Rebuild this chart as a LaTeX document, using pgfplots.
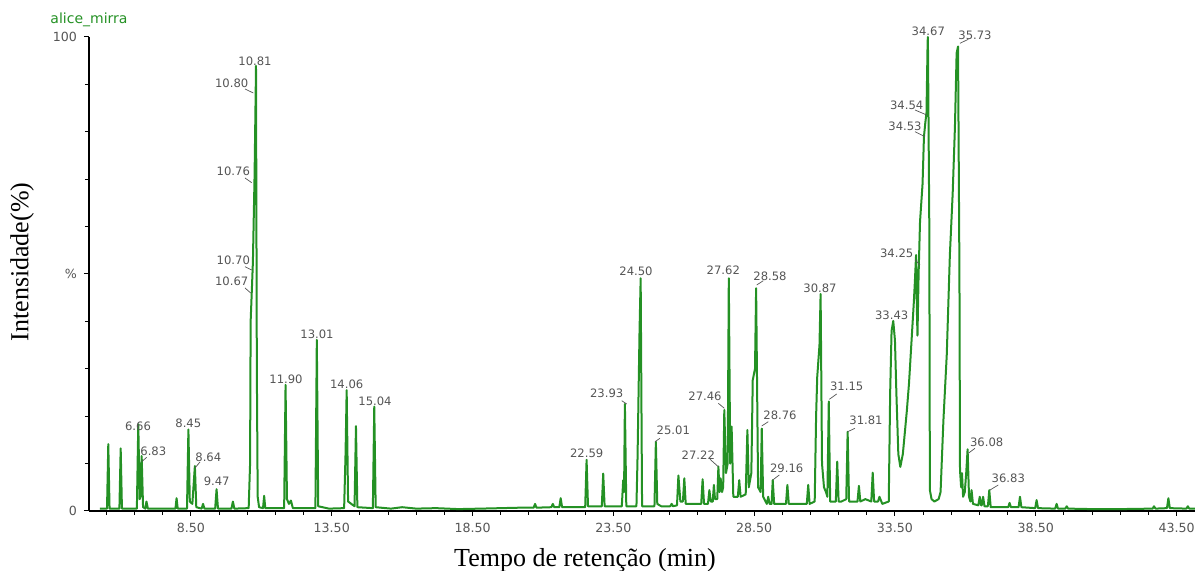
\documentclass[border=0pt]{standalone}
\usepackage{pgfplots}
\pgfplotsset{compat=1.18}
\usepackage{fontspec}
\setmainfont{Liberation Serif}
\newfontfamily\dejavu{DejaVu Sans}
\definecolor{chrom}{RGB}{36,145,36}
\definecolor{lbl}{RGB}{85,85,85}
\begin{document}
\begin{tikzpicture}
\path[use as bounding box] (-44.5pt,-30pt) rectangle (555.5pt,255.5pt);
\begin{axis}[
  scale only axis, width=553pt, height=237pt,
  xmin=4.880, xmax=44.155, ymin=0, ymax=100,
  axis x line*=bottom, axis y line*=left,
  axis line style={line width=0.8pt, black},
  xtick={8.5,13.5,18.5,23.5,28.5,33.5,38.5,43.5},
  xticklabels={8.50,13.50,18.50,23.50,28.50,33.50,38.50,43.50},
  minor xtick={5.5,6.5,7.5,9.5,10.5,11.5,12.5,14.5,15.5,16.5,17.5,19.5,20.5,21.5,22.5,24.5,25.5,26.5,27.5,29.5,30.5,31.5,32.5,34.5,35.5,36.5,37.5,39.5,40.5,41.5,42.5},
  ytick={0,50,100}, yticklabels={0,\%,100},
  minor ytick={10,20,30,40,60,70,80,90},
  tick align=outside, major tick length=2.5pt, minor tick length=2pt,
  tick style={black, line width=0.5pt},
  ticklabel style={font=\dejavu\fontsize{6.3}{7}\selectfont, text=lbl},
  /pgf/number format/assume math mode=true,
  clip=false,
]
\addplot[chrom, line width=1pt, line join=round] coordinates {
(5.27,0.5)(5.52,0.5)(5.565,14.1)(5.61,0.5)(5.96,0.5)(6.005,13.2)(6.05,0.5)
(6.58,0.5)(6.63,18.3)(6.68,2.5)(6.71,3)(6.75,11.6)(6.80,0.8)(6.88,0.5)(6.92,2.0)(6.97,0.5)
(7.60,0.5)(7.95,0.5)(7.99,2.7)(8.03,0.5)(8.36,0.5)(8.41,17.2)(8.46,2)(8.55,1.5)(8.64,9.5)(8.69,0.8)
(8.88,0.5)(8.93,1.5)(8.98,0.5)(9.36,0.5)(9.41,4.6)(9.46,0.5)(9.94,0.5)(9.99,2.0)(10.04,0.5)
(10.55,0.6)(10.60,10)(10.62,40)(10.67,47.7)(10.70,52.5)(10.76,70.9)(10.80,88.8)(10.81,93.9)(10.84,30)(10.87,3)(10.92,0.8)
(11.06,0.6)(11.10,3.2)(11.14,0.6)(11.81,0.6)(11.86,26.6)(11.91,2.5)(11.98,1.5)(12.05,2.2)(12.12,0.6)
(12.92,0.6)(12.97,36.1)(13.02,1)(13.40,0.5)(13.94,0.6)(13.99,12)(14.03,25.5)(14.08,2)(14.31,1)(14.36,17.9)(14.41,0.8)
(14.96,0.6)(15.01,22.0)(15.06,0.8)(15.6,0.5)(16.0,0.8)(16.5,0.5)(17.2,0.6)(18.0,0.4)(18.8,0.5)(19.5,0.6)(20.2,0.7)
(20.67,0.7)(20.72,1.5)(20.77,0.7)(21.30,0.8)(21.35,1.5)(21.40,0.8)(21.58,0.8)(21.63,2.7)(21.68,0.8)
(22.50,0.8)(22.55,10.8)(22.60,1)(23.09,1)(23.14,7.9)(23.19,1)(23.80,1)(23.85,6.5)(23.88,4)(23.91,22.6)(23.96,1)
(24.32,1)(24.36,11.5)(24.43,38)(24.47,49.1)(24.52,1)(24.96,1)(25.01,14.6)(25.06,1.5)(25.2,1)
(25.52,1)(25.57,1.5)(25.62,1)(25.76,1.2)(25.81,7.5)(25.88,2)(25.97,2)(26.02,6.9)(26.07,1.5)(26.3,1.5)
(26.62,1.5)(26.67,6.7)(26.72,1.5)(26.86,1.5)(26.91,4.4)(26.96,2)(27.03,2)(27.07,5.5)(27.11,2.5)
(27.19,2.5)(27.23,9.4)(27.27,4)(27.31,6.9)(27.36,4)(27.40,5)(27.44,21.3)(27.50,8)(27.56,10)(27.60,49.1)
(27.65,10)(27.70,17.8)(27.76,3)(27.92,3)(27.97,6.5)(28.02,3)(28.20,3.5)(28.26,17.1)(28.31,5)(28.40,8)
(28.45,27.6)(28.53,30)(28.57,47.0)(28.64,5)(28.73,4)(28.77,17.4)(28.82,3)(28.95,1.5)(29.00,3)(29.05,1.5)
(29.12,1.5)(29.16,6.5)(29.21,1.5)(29.63,1.5)(29.68,5.5)(29.73,1.5)(30.37,1.5)(30.42,5.5)(30.47,1.5)
(30.65,2)(30.70,20)(30.74,28.3)(30.82,35)(30.86,45.8)(30.91,10)(30.98,5)(31.05,4)(31.10,3)(31.15,23.1)(31.20,2)
(31.32,2)(31.40,2)(31.45,10.4)(31.50,2)(31.60,2)(31.77,2.5)(31.82,16.7)(31.87,2)(32.0,2)(32.17,2)(32.22,5.3)(32.27,2)
(32.45,2.5)(32.66,2)(32.71,8.1)(32.76,2)(32.90,2)(32.95,3)(33.05,1.5)(33.28,2)(33.33,25)(33.38,38)(33.44,40.1)
(33.50,36)(33.55,25)(33.62,12)(33.69,9.3)(33.78,12)(33.92,21)(34.00,27)(34.09,36)(34.17,44)(34.21,48.7)(34.25,54)
(34.28,42)(34.30,37)(34.34,50)(34.39,61)(34.48,69)(34.53,79)(34.58,82)(34.62,84)(34.66,99)(34.67,100)(34.72,60)(34.74,4.4)
(34.80,2.5)(34.90,2.0)(35.05,2.5)(35.12,4)(35.22,19)(35.34,33)(35.45,54)(35.55,67)(35.63,81)(35.69,96.6)(35.74,98)
(35.79,50)(35.81,8.6)(35.85,5)(35.88,8)(35.92,3)(35.98,4)(36.03,8)(36.08,13)(36.13,3)(36.18,2)(36.22,4.4)(36.27,1.5)
(36.46,1.2)(36.51,3)(36.56,1.2)(36.58,1.2)(36.63,3)(36.68,1)(36.80,1)(36.85,4.4)(36.90,0.8)(37.2,0.8)
(37.52,0.8)(37.57,1.7)(37.62,0.8)(37.89,0.8)(37.94,3)(37.99,0.8)(38.48,0.6)(38.53,2.3)(38.58,0.6)
(39.19,0.5)(39.24,1.5)(39.29,0.5)(39.55,0.5)(39.60,1.0)(39.65,0.5)(40.5,0.4)(41.5,0.4)
(42.65,0.5)(42.70,1.0)(42.75,0.5)(43.16,0.6)(43.21,2.7)(43.26,0.6)(43.85,0.5)(43.90,1.0)(43.95,0.5)(44.15,0.5)
};
\end{axis}
\begin{scope}[x=0.5pt,y=-0.5pt,shift={(-44.5pt,255.5pt)}]
\node[text=chrom, font=\dejavu\fontsize{7}{8}\selectfont] at (89,20) {alice\_mirra};
\node[rotate=90, font=\fontsize{13}{15}\selectfont] at (22,262) {Intensidade(\%)};
\node[anchor=base, font=\fontsize{13}{15}\selectfont] at (585,567) {Tempo de retenção (min)};
\begin{scope}[every node/.style={text=lbl, font=\dejavu\fontsize{5.8}{6.5}\selectfont, inner sep=0pt}]
\node at (138,426) {6.66};
\node at (153.3,451.7) {6.83};
\node at (188.3,423.3) {8.45};
\node at (208.3,457.3) {8.64};
\node at (216.7,481.7) {9.47};
\node at (231.7,281.7) {10.67};
\node at (233.3,260) {10.70};
\node at (233.3,171.7) {10.76};
\node at (231.7,83.3) {10.80};
\node at (255,61.7) {10.81};
\node at (286,379) {11.90};
\node at (317,334) {13.01};
\node at (346.7,384) {14.06};
\node at (375,401.7) {15.04};
\node at (586.7,453.3) {22.59};
\node at (606.7,393.3) {23.93};
\node at (636,271.7) {24.50};
\node at (673.3,430) {25.01};
\node at (698.3,455) {27.22};
\node at (705,396.7) {27.46};
\node at (723.3,270.7) {27.62};
\node at (770,276) {28.58};
\node at (780,415.7) {28.76};
\node at (786.7,468.3) {29.16};
\node at (820,288.3) {30.87};
\node at (846.7,386.7) {31.15};
\node at (866,420.7) {31.81};
\node at (891.7,315) {33.43};
\node at (896.7,253.3) {34.25};
\node at (905,126) {34.53};
\node at (906.7,105) {34.54};
\node at (928.3,31.7) {34.67};
\node at (975,35) {35.73};
\node at (986.7,442.7) {36.08};
\node at (1008.3,478.3) {36.83};
\end{scope}
\begin{scope}[draw=lbl, line width=0.35pt]
\draw (141.7,461.7) -- (146.7,457.3);
\draw (195,468) -- (200,462);
\draw (245,288) -- (250.7,293);
\draw (245,266.7) -- (251.7,270);
\draw (245,178) -- (251.7,182.7);
\draw (245,89) -- (253.3,93);
\draw (621.7,400.7) -- (626.7,404);
\draw (655,441.7) -- (660,438.3);
\draw (710,459.3) -- (718.3,466.7);
\draw (718.3,403.3) -- (724.3,408.3);
\draw (756.7,285) -- (763.3,280.7);
\draw (761.7,426) -- (768.3,421.7);
\draw (772.7,480) -- (779.3,475);
\draw (829.3,399.3) -- (836.7,394);
\draw (847.7,431.7) -- (855,428.3);
\draw (915,260) -- (920,265);
\draw (915,131.7) -- (925,136.7);
\draw (915,110) -- (926.7,115);
\draw (960,43.3) -- (968.3,39.3);
\draw (968.3,453.3) -- (975,448.3);
\draw (990,490) -- (998.3,485);
\end{scope}
\end{scope}
\end{tikzpicture}
\end{document}
